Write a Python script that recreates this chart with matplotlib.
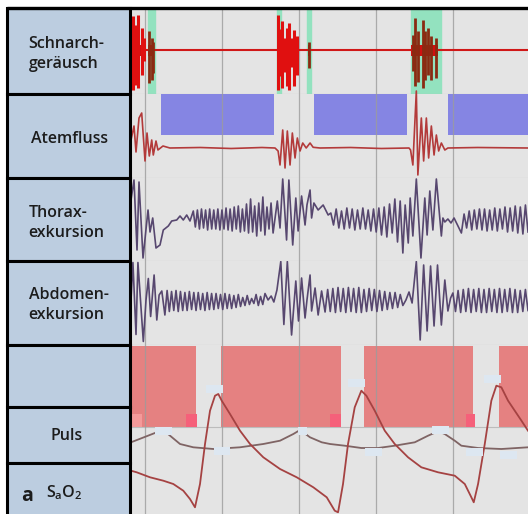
import numpy as np
import matplotlib.pyplot as plt
from matplotlib.patches import Rectangle

W, H = 528, 514
T_END = 103.1
GRID_T = [3.6, 23.6, 43.6, 63.6, 83.6]

# --- Schnarchgeraeusch: spikes (time, upper, lower), bright red / dark red
snore_bright = [(0.44, .80, -.92), (1.04, .61, -.80), (1.9, .84, -.88), (2.78, .53, -.57), (3.38, .29, -.25),
                (38.3, .84, -.92), (38.7, .5, -.6), (39.1, .69, -.88), (39.7, .3, -.5), (40.4, .53, -.84),
                (41.1, .65, -.92), (41.7, .3, -.4), (42.3, .49, -.84), (43.0, .33, -.57)]
snore_dark = [(4.75, .45, -.76), (5.38, .29, -.69), (5.79, .21, -.53), (46.1, .21, -.41),
              (73.2, .37, -.49), (73.8, .76, -.84), (74.5, .45, -.73), (75.8, .72, -.88),
              (76.4, .45, -.69), (77.1, .53, -.57), (78.0, .33, -.69), (79.3, .29, -.65)]
snore_bursts = [(0, 3.6), (4.4, 6.0), (38.0, 43.3), (45.9, 46.3), (72.8, 79.6)]
snore_marks = [(4.4, 6.2), (37.9, 39.0), (45.7, 46.8), (72.7, 80.5)]

# --- Atemfluss
apnea_blocks = [(7.8, 37.1), (47.5, 71.7), (82.3, 103.1)]
flow_t = [0, 0.78, 1.3, 2.08, 2.78, 3.64, 4.16, 4.75, 5.38, 5.79, 6.49, 7.0, 8.3, 10.1, 18.0,
          26.0, 34.0, 37.4, 38.2, 38.7, 39.4, 40.0, 40.6, 41.3, 41.9, 42.6, 43.2, 43.9, 44.6, 45.5,
          46.5, 47.3, 49.1, 57.0, 65.0, 72.2, 72.6, 73.2, 74.1, 74.5, 75.4, 76.0, 76.7, 77.3, 78.0,
          78.7, 79.3, 79.9, 80.6, 81.5, 82.3, 90.0, 103.1]
flow_v = [0.8, 2.2, -0.4, 3.0, 3.5, -1.3, 1.5, -0.8, 0.8, -0.7, 0.7, -0.2, 0.2, 0.0, 0.05,
          -0.05, 0.05, 0.0, -0.3, -1.7, 1.8, -2.0, 1.7, -1.7, 1.5, -1.0, 1.0, -0.3, 0.5, 0.0,
          0.5, 0.07, 0.0, 0.05, -0.05, 0.0, -0.2, -1.7, 5.7, -2.7, 3.0, -1.3, 3.0, -1.0, 2.2,
          -0.7, 1.3, -0.3, 0.5, -0.2, 0.0, 0.05, 0.0]

# --- Thoraxexkursion (irregular parts as points, regular breathing as evenly spaced extrema)
thorax_onset_t = [0, 0.78, 1.56, 2.08, 3.12, 4.42, 4.94, 5.64, 6.49, 7.53, 8.39, 9.69, 10.57,
                  11.87, 12.73, 13.58, 14.47, 15.32, 16.18]
thorax_onset_v = [1.9, 3.9, -3.1, 3.7, -3.9, 0.9, -1.3, 0.1, -2.9, -2.6, -1.1, -0.7, -0.2,
                  -0.1, 0.3, -0.1, 0.4, -0.2, 0.8]
thorax_calm1 = (16.18, 36.9, [0.8, -0.8, 0.9, -1.0, 1.0, -0.9, 0.9, -1.1, 1.0, -1.0, 0.9, -1.0,
                              1.0, -1.1, 0.9, -1.0, 1.1, -1.1, 1.0, -1.2, 1.2, -1.0, 1.3, -1.3,
                              1.0, -1.2, 1.5, -1.4, 2.0, -1.3, 1.3, -1.7, 1.6, -1.2, 2.2, -1.6,
                              1.2, -1.0, 1.6, -1.4])
thorax_ev1_t = [38.0, 38.7, 39.4, 40.4, 41.0, 42.0, 42.8, 43.4, 44.3, 45.2, 45.7, 46.5, 46.9,
                47.5, 48.6, 49.9, 51.2, 51.9]
thorax_ev1_v = [1.8, -0.9, 4.0, -2.1, 3.9, -2.6, 2.1, -1.2, 2.3, -0.6, 1.4, 2.9, 0.1,
                1.6, 0.9, 1.4, 0.4, 0.6]
thorax_calm2 = (51.9, 70.6, [0.6, -0.6, 1.0, -0.9, 0.8, -1.0, 1.1, -0.9, 1.0, -1.1, 0.9, -1.0,
                             1.1, -1.0, 0.9, -1.2, 1.0, -1.3, 1.1, -1.6, 1.2, -1.8, 1.5, -1.4,
                             2.0, -2.3, 1.8, -3.4])
thorax_ev2_t = [71.2, 72.0, 72.5, 73.2, 74.1, 75.3, 76.3, 76.9, 77.6, 78.4, 79.3, 80.6, 81.0,
                81.5, 82.3, 83.1, 83.9, 84.9, 85.8, 86.5]
thorax_ev2_v = [1.4, -2.4, 2.1, -1.7, 4.0, -3.9, 2.1, -1.6, 2.8, -1.1, 4.0, -1.7, 0.1,
                -0.3, 0.0, -0.4, 0.1, -0.7, -1.4, 0.5]
thorax_calm3 = (86.5, 103.1, [0.5, -0.9, 0.8, -1.1, 0.9, -1.0, 1.0, -1.1, 1.0, -1.2, 0.9, -1.1,
                              1.1, -1.2, 1.0, -1.0, 1.2, -1.3, 1.1, -1.2, 1.3, -1.4, 1.2, -1.5,
                              1.4, -1.3])

# --- Abdomenexkursion
abd_onset_t = [0, 0.5, 1.3, 1.8, 3.2, 3.9, 4.5, 5.1, 6.0, 6.7, 7.3, 8.0, 8.8]
abd_onset_v = [0.25, 4.0, -3.2, 4.0, -3.9, 0.25, 2.4, -1.4, 2.75, -1.75, 0.75, 1.15, -1.25]
abd_calm1 = (8.8, 34.8, [-1.25, 1.2, -0.9, 1.1, -0.8, 1.2, -0.9, 1.1, -0.8, 1.0, -0.8, 1.1,
                         -0.7, 1.0, -0.8, 1.0, -0.7, 0.9, -0.8, 1.0, -0.7, 0.9, -0.7, 0.9,
                         -0.6, 0.8, -0.7, 0.9, -0.6, 0.8, -0.6, 0.7, -0.5, 0.8, -0.4, 0.5,
                         -0.3, 0.7, -0.2, 0.4, -0.1, 0.8, -0.3, 0.6, -0.2, 0.9])
abd_ev1_t = [35.6, 36.4, 37.1, 37.9, 38.9, 39.7, 40.6, 41.7, 42.8, 43.5, 44.3, 45.2, 45.7,
             46.5, 46.9, 47.8, 48.6, 49.5, 50.4]
abd_ev1_v = [0.25, 0.65, 0.05, 1.25, 4.1, -2.2, 4.1, -3.25, 2.15, -1.85, 2.45, -1.55, 0.25,
             2.75, -0.85, 1.45, -1.25, 1.15, -0.95]
abd_calm2 = (50.4, 70.6, [-0.95, 1.3, -0.9, 1.4, -1.0, 1.5, -0.9, 1.4, -1.0, 1.5, -0.9, 1.4,
                          -1.0, 1.5, -1.0, 1.3, -0.9, 1.4, -0.8, 1.3, -0.9, 1.2, -0.8, 1.1,
                          -0.7, 1.0, -0.6, 1.0, -0.5, 0.8, -0.3])
abd_ev2_t = [71.4, 72.2, 73.0, 74.1, 75.1, 76.0, 76.9, 77.8, 78.7, 79.6, 80.6, 81.5, 82.3,
             83.0, 83.6]
abd_ev2_v = [0.25, 1.05, -0.05, 4.1, -3.75, 3.75, -2.85, 3.65, -2.35, 3.75, -2.25, 2.25, -0.85,
             0.45, 0.95]
abd_calm3 = (83.6, 103.1, [0.95, -0.9, 1.2, -1.0, 1.3, -0.9, 1.4, -1.0, 1.3, -0.9, 1.4, -1.0,
                           1.3, -1.0, 1.4, -0.9, 1.3, -1.0, 1.4, -1.0, 1.3, -0.9, 1.4, -1.0,
                           1.3, -1.0, 1.2, -0.9, 1.3, -0.8])

# --- Puls / SaO2 (arbitrary units)
desat_blocks = [(0, 16.9), (23.4, 54.5), (60.5, 88.8), (95.6, 103.1)]
arousal_marks = [(0.18, 2.78), (14.3, 17.1), (51.6, 54.6), (87.0, 89.3)]
puls_t = [0, 6.68, 8.83, 12.73, 16.18, 21.38, 28.31, 34.36, 38.7, 42.16, 43.9, 46.49, 49.53,
          51.69, 55.5, 59.82, 64.16, 68.49, 73.69, 77.14, 79.74, 81.48, 84.08, 85.79, 90.13,
          96.18, 103.1]
puls_v = [7.17, 8.17, 8.25, 7.0, 6.67, 6.5, 6.67, 7.0, 7.33, 8.0, 8.4, 7.67, 7.17,
          7.0, 6.83, 6.6, 6.6, 6.83, 7.17, 7.83, 8.27, 8.0, 7.33, 6.83, 6.6,
          6.5, 6.67]
sao2_t = [0, 1.48, 4.94, 8.39, 10.99, 13.58, 15.32, 16.62, 17.92, 19.22, 20.52, 21.82, 22.68,
          23.56, 25.71, 28.31, 30.91, 34.36, 38.7, 43.04, 47.35, 50.83, 52.91, 53.77, 55.06,
          56.36, 58.1, 59.82, 61.12, 63.3, 65.9, 68.49, 71.95, 75.4, 79.74, 84.08, 86.68,
          88.39, 89.01, 90.13, 91.87, 93.58, 94.88, 96.18, 97.92, 99.66, 101.4, 103.1]
sao2_v = [4.33, 4.17, 3.67, 3.33, 3.0, 2.33, 1.5, 0.67, 3.0, 7.0, 10.33, 11.83, 12.0,
          11.33, 10.0, 8.33, 7.0, 5.67, 4.5, 3.67, 2.67, 1.67, 0.33, 0.17, 3.0,
          7.0, 10.67, 12.33, 11.83, 10.33, 8.33, 7.0, 5.67, 4.67, 4.17, 3.83, 3.0,
          1.67, 1.17, 3.0, 7.0, 11.33, 12.83, 12.67, 11.33, 10.33, 9.33, 8.33]
# blanked value labels (centre time, centre level, width)
value_boxes = [(21.65, 12.5, 4.3), (8.4, 8.3, 4.3), (23.6, 6.33, 4.3), (44.45, 8.3, 2.3),
               (58.55, 13.1, 4.3), (62.95, 6.2, 4.3), (80.35, 8.45, 4.3), (93.95, 13.5, 4.3),
               (89.15, 6.2, 4.3), (98.05, 5.9, 4.3)]

BG = '#e4e4e4'
GRIDC = '#9c9c9c'
SEPC = '#bcbcbc'
CELL = '#bccde0'
FONT = ['Open Sans', 'DejaVu Sans']


def build(*pieces):
    ts, vs = [], []
    for p in pieces:
        if len(p) == 3:
            ts.extend(np.linspace(p[0], p[1], len(p[2])))
            vs.extend(p[2])
        else:
            ts.extend(p[0])
            vs.extend(p[1])
    return np.array(ts), np.array(vs)


def row_axes(fig, y0, y1, ylim):
    ax = fig.add_axes([131 / W, 1 - y1 / H, (W - 131) / W, (y1 - y0) / H])
    ax.set_xlim(0, T_END)
    ax.set_ylim(*ylim)
    ax.set_facecolor(BG)
    ax.set_xticks([])
    ax.set_yticks([])
    for s in ax.spines.values():
        s.set_visible(False)
    ax.spines['bottom'].set_visible(True)
    ax.spines['bottom'].set_color(SEPC)
    for g in GRID_T:
        ax.axvline(g, color=GRIDC, lw=0.9, zorder=2.5, alpha=0.8)
    return ax


fig = plt.figure(figsize=(W / 100, H / 100), dpi=100)
fig.patch.set_facecolor('white')

# row 1: snoring
ax1 = row_axes(fig, 8.4, 93.6, (-1.014, 0.99))
for a, b in snore_marks:
    ax1.axvspan(a, b, color='#93e2bf', zorder=1)
ax1.axhline(0, color='#d01818', lw=1.5, zorder=3)
for a, b in snore_bursts:
    ax1.fill_between([a, b], -0.13, 0.13, color='#d01010', lw=0, zorder=3)
ax1.vlines([s[0] for s in snore_bright], [s[2] for s in snore_bright], [s[1] for s in snore_bright],
           color='#e01010', lw=2.2, zorder=4)
ax1.vlines([s[0] for s in snore_dark], [s[2] for s in snore_dark], [s[1] for s in snore_dark],
           color='#8a2a12', lw=2.0, zorder=4)

# row 2: airflow
ax2 = row_axes(fig, 93.6, 178.4, (-3.04, 5.44))
for a, b in apnea_blocks:
    ax2.bar(a, 5.5 - 1.33, width=b - a, bottom=1.33, align='edge', color='#8585e3', lw=0, zorder=1)
ax2.plot(flow_t, flow_v, color='#b33a3a', lw=1.2, zorder=4, clip_on=False)

# row 3: thorax
ax3 = row_axes(fig, 178.4, 260.9, (-4.19, 4.06))
tt, tv = build((thorax_onset_t, thorax_onset_v), thorax_calm1, (thorax_ev1_t, thorax_ev1_v),
               thorax_calm2, (thorax_ev2_t, thorax_ev2_v), thorax_calm3)
ax3.plot(tt, tv, color='#57476f', lw=1.2, zorder=4)

# row 4: abdomen
ax4 = row_axes(fig, 260.9, 345, (-4.25, 4.16))
at, av = build((abd_onset_t, abd_onset_v), abd_calm1, (abd_ev1_t, abd_ev1_v),
               abd_calm2, (abd_ev2_t, abd_ev2_v), abd_calm3)
ax4.plot(at, av, color='#57476f', lw=1.2, zorder=4)

# rows 5-7: pulse and saturation
ax5 = row_axes(fig, 345, 514, (0, 16.9))
ax5.spines['bottom'].set_visible(False)
for a, b in desat_blocks:
    ax5.bar(a, 16.8 - 8.67, width=b - a, bottom=8.67, align='edge', color='#e58181', lw=0, zorder=1)
for i, (a, b) in enumerate(arousal_marks):
    ax5.bar(a, 1.3, width=b - a, bottom=8.7, align='edge', lw=0, zorder=2,
            color='#f49a9a' if i == 0 else '#f5607a')
ax5.axhline(8.67, color=SEPC, lw=0.8, zorder=1)
ax5.plot(puls_t, puls_v, color='#7f6464', lw=1.3, zorder=4)
ax5.plot(sao2_t, sao2_v, color='#a54242', lw=1.3, zorder=4)
for t, v, w in value_boxes:
    ax5.add_patch(Rectangle((t - w / 2, v - 0.4), w, 0.8, color='#dde7f1', lw=0, zorder=5))

# label column (pixel coordinates)
axl = fig.add_axes([0, 0, 1, 1], zorder=10)
axl.set_xlim(0, W)
axl.set_ylim(H, 0)
axl.axis('off')
axl.patch.set_alpha(0)
cells = [8.4, 93.6, 178.4, 260.9, 345, 407.3, 462.9, 516]
for y0, y1 in zip(cells[:-1], cells[1:]):
    axl.add_patch(Rectangle((7.4, y0), 129.6 - 7.4, y1 - y0, facecolor=CELL,
                            edgecolor='black', lw=2.2, zorder=1))
axl.plot([7.4, W], [8.4, 8.4], color='black', lw=2.4, solid_capstyle='butt', zorder=2)

fs = 11.5
kw = dict(fontsize=fs, family=FONT, fontweight='semibold', color='#1c1c1c', va='center',
          ha='left', linespacing=1.3)
axl.text(28.6, 54, 'Schnarch-\ngeräusch', **kw)
axl.text(31, 139, 'Atemfluss', **kw)
axl.text(28.6, 223, 'Thorax-\nexkursion', **kw)
axl.text(28.6, 305, 'Abdomen-\nexkursion', **kw)
axl.text(67, 436, 'Puls', **dict(kw, ha='center'))
axl.text(21, 496, 'a', **dict(kw, fontsize=14, fontweight='bold'))
axl.text(46, 493, r'S$_{\mathregular{a}}$O$_{\mathregular{2}}$', **kw)

fig.savefig('out.png', dpi=100)
